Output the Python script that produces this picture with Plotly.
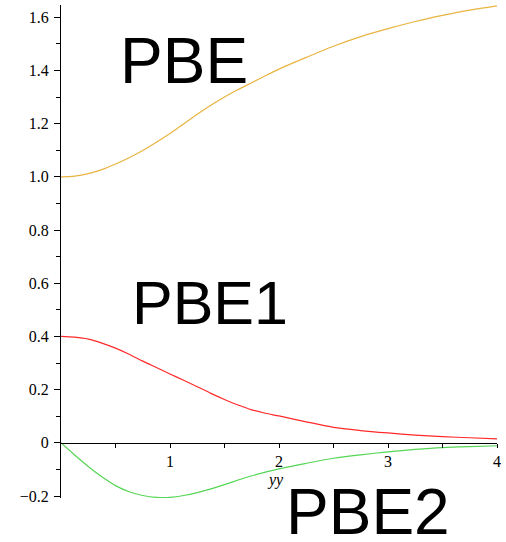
import plotly.graph_objects as go

# sample points along yy
yy = [0.0, 0.125, 0.25, 0.375, 0.5, 0.625, 0.75, 0.875, 1.0,
      1.125, 1.25, 1.375, 1.5, 1.625, 1.75, 1.875, 2.0,
      2.25, 2.5, 2.75, 3.0, 3.25, 3.5, 3.75, 4.0]

pbe = [1.000, 1.003, 1.012, 1.027, 1.048, 1.072, 1.099, 1.130, 1.163,
       1.199, 1.235, 1.269, 1.300, 1.328, 1.354, 1.380, 1.405,
       1.449, 1.491, 1.527, 1.557, 1.584, 1.607, 1.627, 1.643]
pbe1 = [0.400, 0.397, 0.390, 0.375, 0.356, 0.333, 0.307, 0.283, 0.259,
        0.235, 0.211, 0.186, 0.163, 0.142, 0.124, 0.111, 0.101,
        0.079, 0.058, 0.046, 0.037, 0.029, 0.023, 0.019, 0.015]
pbe2 = [0.000, -0.046, -0.089, -0.128, -0.161, -0.184, -0.198, -0.205, -0.205,
        -0.198, -0.187, -0.173, -0.157, -0.140, -0.124, -0.110, -0.098,
        -0.077, -0.058, -0.045, -0.034, -0.025, -0.018, -0.014, -0.011]

x_ticks = [1, 2, 3, 4]
x_minor = [0.5, 1.5, 2.5, 3.5]
y_ticks = [-0.2, 0, 0.2, 0.4, 0.6, 0.8, 1.0, 1.2, 1.4, 1.6]
y_ticklabels = ["\u22120.2", "0", "0.2", "0.4", "0.6", "0.8", "1.0", "1.2", "1.4", "1.6"]
y_minor = [-0.1, 0.1, 0.3, 0.5, 0.7, 0.9, 1.1, 1.3, 1.5]

Y_MIN, Y_MAX = -0.2075, 1.646


def paper_y(v):
    return (v - Y_MIN) / (Y_MAX - Y_MIN)


fig = go.Figure()
for vals, color, name in [(pbe, "#E8B440", "PBE"), (pbe1, "#FF2A2A", "PBE1"), (pbe2, "#55D655", "PBE2")]:
    fig.add_trace(go.Scatter(x=yy, y=vals, mode="lines", name=name,
                             line=dict(color=color, width=1.2, shape="spline", smoothing=0.8)))

tick_font = dict(family="Liberation Serif", size=16, color="black")
big_font = dict(family="Liberation Sans", size=64, color="black")

fig.update_layout(
    width=506, height=542,
    margin=dict(l=61, r=9, t=5, b=44),
    paper_bgcolor="white", plot_bgcolor="white",
    showlegend=False,
    xaxis=dict(
        range=[0, 4], showgrid=False, zeroline=False,
        showline=True, linecolor="black", linewidth=1,
        anchor="free", position=paper_y(0),
        tickmode="array", tickvals=x_ticks, ticks="outside", ticklen=4,
        tickcolor="black", tickfont=tick_font, ticklabelstandoff=0,
        minor=dict(tickmode="array", tickvals=x_minor, ticks="outside", ticklen=4, tickcolor="black"),
    ),
    yaxis=dict(
        range=[Y_MIN, Y_MAX], showgrid=False, zeroline=False,
        showline=True, linecolor="black", linewidth=1,
        tickmode="array", tickvals=y_ticks, ticktext=y_ticklabels,
        ticks="outside", ticklen=6, tickcolor="black", tickfont=tick_font,
        ticklabelstandoff=2,
        minor=dict(tickmode="array", tickvals=y_minor, ticks="outside", ticklen=4, tickcolor="black"),
    ),
    annotations=[
        dict(x=1.13, y=1.434, text="PBE", showarrow=False, font=big_font, xanchor="center", yanchor="middle"),
        dict(x=1.37, y=0.524, text="PBE1", showarrow=False, font=dict(big_font, size=61), xanchor="center", yanchor="middle"),
        dict(x=2.82, y=paper_y(-0.26), yref="paper", text="PBE2", showarrow=False, font=big_font,
             xanchor="center", yanchor="middle"),
        dict(x=1.97, y=-0.14, text="<i>yy</i>", showarrow=False,
             font=dict(family="Liberation Serif", size=16, color="black"), xanchor="center", yanchor="middle"),
    ],
)

fig.write_html("out.html")
